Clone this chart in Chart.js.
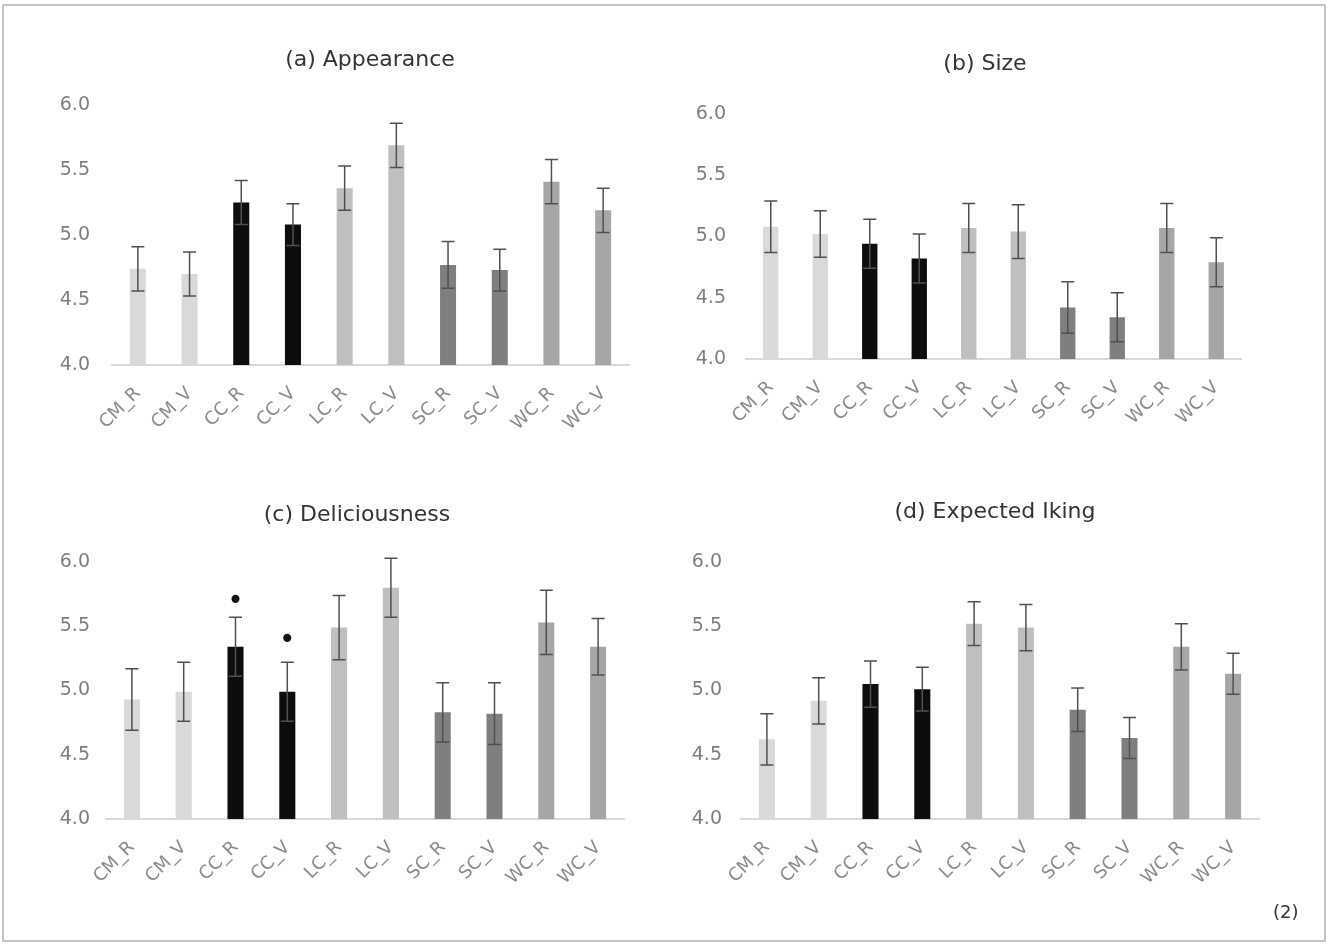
<!DOCTYPE html>
<html>
<head>
<meta charset="utf-8">
<script src="https://cdn.jsdelivr.net/npm/chart.js@4.4.0/dist/chart.umd.min.js"></script>
<style>
  html, body { margin: 0; padding: 0; background: #ffffff; }
  body { width: 1328px; height: 945px; position: relative; overflow: hidden; }
  #frame { position: absolute; left: 2px; top: 4px; width: 1320px; height: 934px; border: 2px solid #c6c6c6; }
  .panel { position: absolute; }
  #note { position: absolute; left: 1273px; top: 901px; font: 18px "DejaVu Sans", sans-serif; color: #333; }
</style>
</head>
<body>
<div id="frame"></div>
<div class="panel" style="left:20px; top:32px;"><canvas id="ca" width="640" height="420"></canvas></div>
<div class="panel" style="left:660px; top:32px;"><canvas id="cb" width="620" height="420"></canvas></div>
<div class="panel" style="left:20px; top:481px;"><canvas id="cc" width="640" height="440"></canvas></div>
<div class="panel" style="left:660px; top:481px;"><canvas id="cd" width="640" height="440"></canvas></div>
<div id="note">(2)</div>
<script>
// ---- data ----
const categories = ['CM_R','CM_V','CC_R','CC_V','LC_R','LC_V','SC_R','SC_V','WC_R','WC_V'];
const yTicks = [4.0, 4.5, 5.0, 5.5, 6.0];

const titleA = '(a) Appearance';
const meansA = [4.74, 4.70, 5.25, 5.08, 5.36, 5.69, 4.77, 4.73, 5.41, 5.19];
const errA   = [0.17, 0.17, 0.17, 0.16, 0.17, 0.17, 0.18, 0.16, 0.17, 0.17];

const titleB = '(b) Size';
const meansB = [5.08, 5.02, 4.94, 4.82, 5.07, 5.04, 4.42, 4.34, 5.07, 4.79];
const errB   = [0.21, 0.19, 0.20, 0.20, 0.20, 0.22, 0.21, 0.20, 0.20, 0.20];

const titleC = '(c) Deliciousness';
const meansC = [4.93, 4.99, 5.34, 4.99, 5.49, 5.80, 4.83, 4.82, 5.53, 5.34];
const errC   = [0.24, 0.23, 0.23, 0.23, 0.25, 0.23, 0.23, 0.24, 0.25, 0.22];
const sigC   = [null, null, 5.69, 5.39, null, null, null, null, null, null];
const sigLabel = '•';

const titleD = '(d) Expected Iking';
const meansD = [4.62, 4.92, 5.05, 5.01, 5.52, 5.49, 4.85, 4.63, 5.34, 5.13];
const errD   = [0.20, 0.18, 0.18, 0.17, 0.17, 0.18, 0.17, 0.16, 0.18, 0.16];

// ---- styles ----
const barColors = ['#d9d9d9','#d9d9d9','#0d0d0d','#0d0d0d','#bfbfbf','#bfbfbf','#7f7f7f','#7f7f7f','#a6a6a6','#a6a6a6'];
const FONT = '"DejaVu Sans", sans-serif';

const errorBarPlugin = {
  id: 'errorBars',
  afterDatasetsDraw(chart) {
    const ctx = chart.ctx;
    const y = chart.scales.y;
    const meta = chart.getDatasetMeta(0);
    const ds = chart.data.datasets[0];
    const errs = ds.errors || [];
    const sig = ds.sig || [];
    ctx.save();
    ctx.strokeStyle = '#505050';
    ctx.lineWidth = 1.5;
    meta.data.forEach((bar, i) => {
      const v = ds.data[i], e = errs[i];
      if (e == null) return;
      const x = bar.x;
      const yt = y.getPixelForValue(v + e);
      const yb = y.getPixelForValue(v - e);
      const cw = 6.5;
      ctx.beginPath();
      ctx.moveTo(x, yt); ctx.lineTo(x, yb);
      ctx.moveTo(x - cw, yt); ctx.lineTo(x + cw, yt);
      ctx.moveTo(x - cw, yb); ctx.lineTo(x + cw, yb);
      ctx.stroke();
    });
    ctx.fillStyle = '#111';
    ctx.font = '28px ' + FONT;
    ctx.textAlign = 'center';
    ctx.textBaseline = 'middle';
    meta.data.forEach((bar, i) => {
      if (sig[i] == null) return;
      ctx.fillText(sigLabel, bar.x, y.getPixelForValue(sig[i]));
    });
    ctx.restore();
  }
};

const panelTitlePlugin = {
  id: 'panelTitle',
  afterDraw(chart, args, opts) {
    const ctx = chart.ctx;
    ctx.save();
    ctx.fillStyle = '#333333';
    ctx.font = '22px ' + FONT;
    ctx.textAlign = 'center';
    ctx.textBaseline = 'middle';
    ctx.fillText(opts.text, opts.x, opts.y);
    ctx.restore();
  }
};

function makeChart(id, title, means, errs, sig, geo) {
  new Chart(document.getElementById(id), {
    type: 'bar',
    data: {
      labels: categories,
      datasets: [{
        data: means,
        errors: errs,
        sig: sig,
        backgroundColor: barColors,
        borderWidth: 0,
        barPercentage: geo.barPct,
        categoryPercentage: 1.0
      }]
    },
    options: {
      responsive: false,
      animation: false,
      layout: { padding: { left: 0, right: geo.right, top: geo.top, bottom: 0 } },
      plugins: {
        legend: { display: false },
        tooltip: { enabled: false },
        title: { display: false },
        panelTitle: { text: title, x: geo.tx, y: geo.ty }
      },
      scales: {
        x: {
          grid: { display: false, drawTicks: false },
          border: { display: true, color: '#d9d9d9', width: 2 },
          ticks: {
            color: '#8a8a8a',
            font: { family: FONT, size: 18 },
            minRotation: 45, maxRotation: 45, autoSkip: false, padding: 18
          },
          afterFit(s) { s.height = geo.xh; }
        },
        y: {
          min: 4, max: 6,
          afterBuildTicks(s) { s.ticks = yTicks.map(v => ({ value: v })); },
          grid: { display: false, drawTicks: false },
          border: { display: false },
          ticks: {
            color: '#7f7f7f',
            font: { family: FONT, size: 19 },
            padding: geo.ypad,
            callback: v => Number(v).toFixed(1)
          },
          afterFit(s) { s.width = geo.yw; }
        }
      }
    },
    plugins: [errorBarPlugin, panelTitlePlugin]
  });
}

// canvas-relative geometry: (a) canvas at (20,32), (b) (660,32), (c) (20,481), (d) (660,481)
makeChart('ca', titleA, meansA, errA, [], { yw: 92, right: 31, top: 73, xh: 87, ypad: 22, barPct: 0.31, tx: 350, ty: 28 });
makeChart('cb', titleB, meansB, errB, [], { yw: 86, right: 39, top: 82, xh: 93, ypad: 20, barPct: 0.31, tx: 325, ty: 32 });
makeChart('cc', titleC, meansC, errC, sigC, { yw: 86, right: 36, top: 81, xh: 102, ypad: 16, barPct: 0.31, tx: 337, ty: 34 });
makeChart('cd', titleD, meansD, errD, [], { yw: 81, right: 41, top: 81, xh: 102, ypad: 19, barPct: 0.31, tx: 335, ty: 31 });
</script>
</body>
</html>
